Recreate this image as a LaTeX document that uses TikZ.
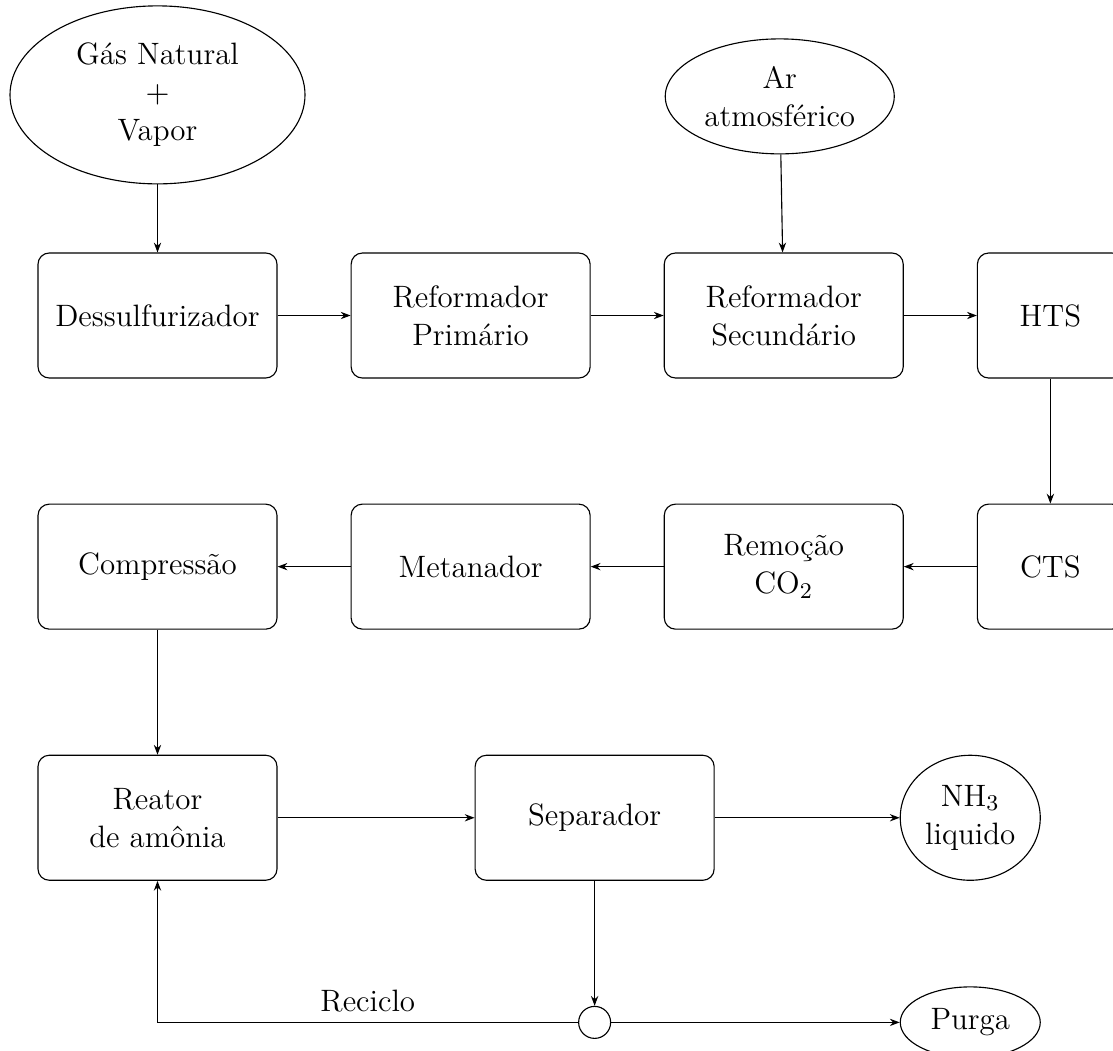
\documentclass[tikz,border=0pt]{standalone}
\usepackage{tikz}
\usetikzlibrary{arrows.meta, positioning, shapes.geometric}

\begin{document}
\begin{tikzpicture}[
  node distance={1.5625cm and 0.9125cm},
  every node/.style={font=\fontsize{11}{13.5}\selectfont, align=center},
  unit/.style={draw, rounded corners=4pt, minimum width=2.9875cm,
    minimum height=1.5625cm},
  unitnarrow/.style={unit, minimum width=1.825cm},
  feed/.style={draw, ellipse, inner sep=0pt},
  flow/.style={-{Stealth[length=3.5pt, width=2.6pt]}},
]
\useasboundingbox (0,0) rectangle (13.9125,-13.125);

% linha 1
\node[unit] (dessulf) at (1.96875,-3.94375) {Dessulfurizador};
\node[unit, right=of dessulf] (refprim) {Reformador\\Primário};
\node[unit, right=of refprim] (refsec) {Reformador\\Secundário};
\node[unitnarrow, right=of refsec] (hts) {HTS};

% alimentacoes
\node[feed, minimum width=3.6875cm, minimum height=2.225cm,
  above=0.85cm of dessulf] (gas) {Gás Natural\\$+$\\Vapor};
\node[feed, minimum width=2.8625cm, minimum height=1.4375cm,
  above=1.225cm of refsec, xshift=-0.05cm] (ar) {Ar\\atmosférico};

% linha 2
\node[unitnarrow, below=of hts] (cts) {CTS};
\node[unit, left=of cts] (remocao) {Remoção\\CO$_2$};
\node[unit, left=of remocao] (metan) {Metanador};
\node[unit, left=of metan] (compr) {Compressão};

% linha 3
\node[unit, below=of compr] (reator) {Reator\\de amônia};
\node[unit, right=2.4625cm of reator] (sep) {Separador};
\node[feed, minimum width=1.75cm, minimum height=1.5625cm,
  right=2.3125cm of sep] (nh3) {NH$_3$\\liquido};
\node[draw, circle, inner sep=0pt, minimum size=0.4cm, below=of sep] (jun) {};
\node[feed, minimum width=1.75cm, minimum height=0.8875cm]
  (purga) at (nh3 |- jun) {Purga};

% conexoes
\draw[flow] (gas) -- (dessulf);
\draw[flow] (ar) -- (refsec);
\draw[flow] (dessulf) -- (refprim);
\draw[flow] (refprim) -- (refsec);
\draw[flow] (refsec) -- (hts);
\draw[flow] (hts) -- (cts);
\draw[flow] (cts) -- (remocao);
\draw[flow] (remocao) -- (metan);
\draw[flow] (metan) -- (compr);
\draw[flow] (compr) -- (reator);
\draw[flow] (reator) -- (sep);
\draw[flow] (sep) -- (nh3);
\draw[flow] (sep) -- (jun);
\draw[flow] (jun) -- (purga);
\draw[flow] (jun.west) -- node[above] {Reciclo} (reator |- jun) -- (reator.south);
\end{tikzpicture}
\end{document}
